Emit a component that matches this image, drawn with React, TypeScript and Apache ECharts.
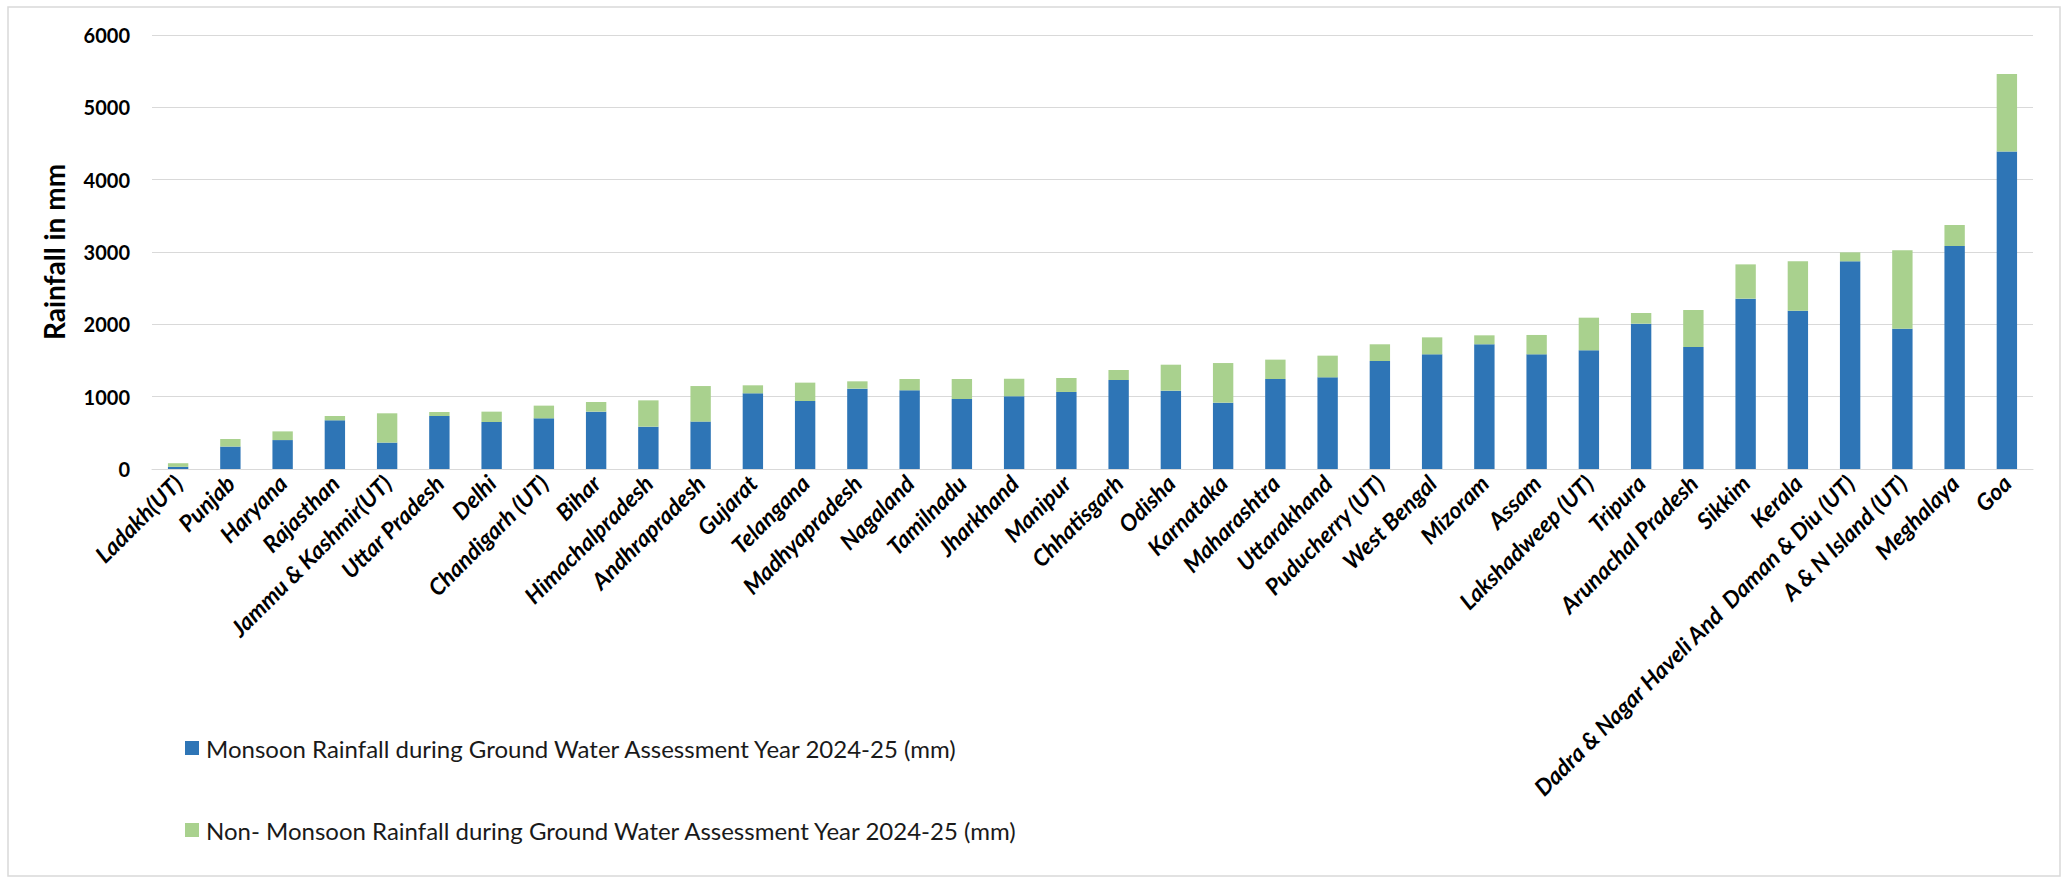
import React, { useEffect, useRef } from "react";
import * as echarts from "echarts";

const categories = [
  "Ladakh(UT)", "Punjab", "Haryana", "Rajasthan", "Jammu & Kashmir(UT)", "Uttar Pradesh",
  "Delhi", "Chandigarh (UT)", "Bihar", "Himachalpradesh", "Andhrapradesh", "Gujarat",
  "Telangana", "Madhyapradesh", "Nagaland", "Tamilnadu", "Jharkhand", "Manipur",
  "Chhatisgarh", "Odisha", "Karnataka", "Maharashtra", "Uttarakhand", "Puducherry (UT)",
  "West Bengal", "Mizoram", "Assam", "Lakshadweep (UT)", "Tripura", "Arunachal Pradesh",
  "Sikkim", "Kerala", "Dadra & Nagar Haveli And  Daman & Diu (UT)", "A & N Island (UT)", "Meghalaya", "Goa",
];

const monsoon = [
  30, 310, 400, 673, 365, 733,
  650, 700, 793, 585, 655, 1046,
  940, 1111, 1088, 968, 1005, 1065,
  1230, 1083, 917, 1244, 1267, 1493,
  1585, 1724, 1585, 1641, 2009, 1687,
  2355, 2189, 2871, 1940, 3083, 4390,
];

const nonMonsoon = [
  50, 105, 120, 60, 405, 55,
  143, 176, 133, 364, 492, 111,
  254, 101, 156, 276, 244, 193,
  139, 359, 548, 268, 300, 231,
  235, 124, 268, 451, 148, 511,
  474, 682, 124, 1083, 290, 1070,
];

const seriesNames = [
  "Monsoon Rainfall during Ground Water Assessment Year 2024-25 (mm)",
  "Non- Monsoon Rainfall during Ground Water Assessment Year 2024-25 (mm)",
];

const yAxisName = "Rainfall in mm";

const FONT = "Lato, 'Noto Sans', sans-serif";

export default function App() {
  const ref = useRef<HTMLDivElement>(null);

  useEffect(() => {
    if (!ref.current) return;
    const chart = echarts.init(ref.current, undefined, { renderer: "svg" });
    chart.setOption({
      animation: false,
      backgroundColor: "#ffffff",
      grid: { left: 152, right: 38, top: 35, bottom: 413, containLabel: false },
      legend: {
        orient: "vertical",
        left: 180,
        top: 731,
        itemWidth: 14,
        itemHeight: 14,
        itemGap: 58,
        icon: "rect",
        data: seriesNames,
        textStyle: { fontFamily: FONT, fontSize: 24, color: "#1a1a1a", lineHeight: 24, padding: [0, 0, 0, 2] },
      },
      xAxis: {
        type: "category",
        data: categories,
        axisLine: { show: true, lineStyle: { color: "#d9d9d9", width: 1 } },
        axisTick: { show: false },
        axisLabel: {
          interval: 0,
          rotate: 45,
          margin: 10,
          fontFamily: FONT,
          fontSize: 23,
          fontWeight: "bold",
          fontStyle: "italic",
          color: "#000",
        },
      },
      yAxis: {
        type: "value",
        min: 0,
        max: 6000,
        interval: 1000,
        name: yAxisName,
        nameLocation: "middle",
        nameGap: 84,
        nameTextStyle: { fontFamily: FONT, fontSize: 28, fontWeight: "bold", color: "#000" },
        axisLine: { show: false },
        axisTick: { show: false },
        axisLabel: {
          margin: 22,
          fontFamily: FONT,
          fontSize: 20,
          fontWeight: "bold",
          color: "#000",
          formatter: (v: number) => String(v),
        },
        splitLine: { lineStyle: { color: "#d9d9d9", width: 1 } },
      },
      series: [
        {
          name: seriesNames[0],
          type: "bar",
          stack: "total",
          data: monsoon,
          barWidth: "39%",
          itemStyle: { color: "#2e75b6" },
        },
        {
          name: seriesNames[1],
          type: "bar",
          stack: "total",
          data: nonMonsoon,
          barWidth: "39%",
          itemStyle: { color: "#a9d18e" },
        },
      ],
      graphic: [
        {
          type: "rect",
          shape: { x: 8, y: 7, width: 2052, height: 869 },
          style: { fill: "none", stroke: "#d9d9d9", lineWidth: 1.5 },
          silent: true,
        },
      ],
    });
    return () => chart.dispose();
  }, []);

  return (
    <div
      ref={ref}
      style={{ position: "fixed", left: 0, top: 0, width: 2071, height: 882 }}
    />
  );
}
